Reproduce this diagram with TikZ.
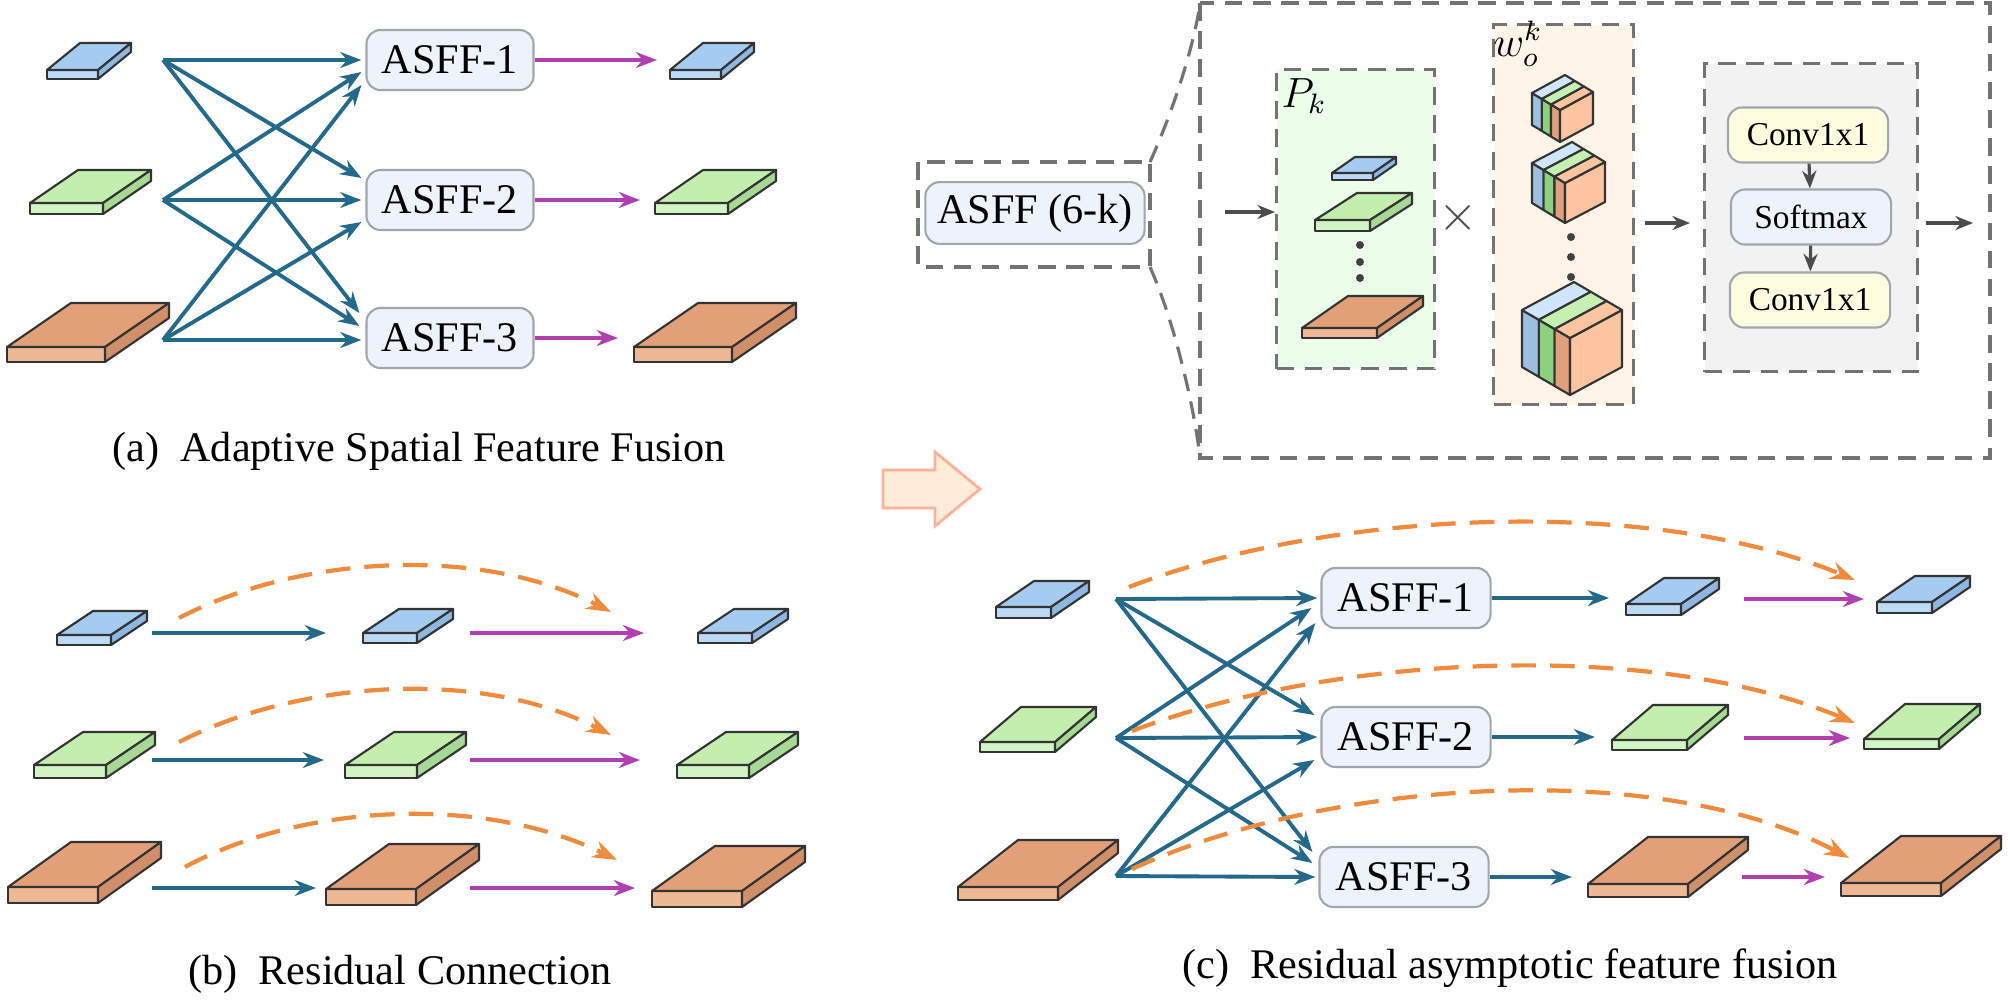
\documentclass[tikz,border=0pt]{standalone}
\usepackage{fontspec}
\setmainfont{Liberation Serif}
\usetikzlibrary{arrows.meta,calc}
\definecolor{bfront}{HTML}{BCDAF6}\definecolor{btop}{HTML}{A6CBF1}\definecolor{bside}{HTML}{8EB8E2}
\definecolor{gfront}{HTML}{D2F4C4}\definecolor{gtop}{HTML}{C2EEAE}\definecolor{gside}{HTML}{A6D993}
\definecolor{ofront}{HTML}{EFB895}\definecolor{otop}{HTML}{E2A078}\definecolor{oside}{HTML}{D08E69}
\definecolor{teal}{HTML}{24688A}\definecolor{mag}{HTML}{B040B0}\definecolor{dorange}{HTML}{F08A3C}
\definecolor{boxfill}{HTML}{EEF3FB}\definecolor{boxline}{HTML}{A0A6AE}
\newcommand\myslab[7]{%
  \filldraw[slabline,fill=#7front] (#1,#2) rectangle ++(#3,-#4);
  \filldraw[slabline,fill=#7top] (#1,#2-#4) -- ++(#3,0) -- ++(#5,-#6) -- ++(-#3,0) -- cycle;
  \filldraw[slabline,fill=#7side] (#1+#3,#2) -- ++(0,-#4) -- ++(#5,-#6) -- ++(0,#4) -- cycle;}
\newcommand\mycube[7]{% Lx Ly Fx Fy Rx Ry h
  \coordinate (L) at (#1,#2); \coordinate (F) at (#3,#4); \coordinate (R) at (#5,#6);
  \coordinate (B) at ($(L)+(R)-(F)$);
  \coordinate (P1) at ($(L)!0.35!(F)$); \coordinate (P2) at ($(L)!0.68!(F)$);
  \coordinate (Q1) at ($(B)!0.35!(R)$); \coordinate (Q2) at ($(B)!0.68!(R)$);
  \filldraw[slabline,fill=cblue] (L) -- (P1) -- ++(0,#7) -- ($(L)+(0,#7)$) -- cycle;
  \filldraw[slabline,fill=cgreen] (P1) -- (P2) -- ++(0,#7) -- ($(P1)+(0,#7)$) -- cycle;
  \filldraw[slabline,fill=cor] (P2) -- (F) -- ++(0,#7) -- ($(P2)+(0,#7)$) -- cycle;
  \filldraw[slabline,fill=corl] (F) -- (R) -- ++(0,#7) -- ($(F)+(0,#7)$) -- cycle;
  \filldraw[slabline,fill=cbluel] (L) -- (P1) -- (Q1) -- (B) -- cycle;
  \filldraw[slabline,fill=cgreenl] (P1) -- (P2) -- (Q2) -- (Q1) -- cycle;
  \filldraw[slabline,fill=corl] (P2) -- (F) -- (R) -- (Q2) -- cycle;}
\definecolor{cblue}{HTML}{9DBFE0}\definecolor{cbluel}{HTML}{CDE6FB}
\definecolor{cgreen}{HTML}{8CD27E}\definecolor{cgreenl}{HTML}{C6F0B2}
\definecolor{cor}{HTML}{E0A07C}\definecolor{corl}{HTML}{FCC49F}
\begin{document}
\begin{tikzpicture}[x=0.01cm,y=-0.01cm,
  slabline/.style={draw=black!80,line width=0.6pt,line join=round},
  tarr/.style={teal,line width=1.1pt,-{Stealth[length=6pt,width=4.5pt]}},
  marr/.style={mag,line width=1.1pt,-{Stealth[length=6pt,width=4.5pt]}},
  oarr/.style={dorange,line width=1.2pt,dash pattern=on 7pt off 4pt,-{Stealth[length=7pt,width=5pt]}},
  garr/.style={black!70,line width=0.9pt,-{Stealth[length=5pt,width=4pt]}},
  asff/.style={draw=boxline,fill=boxfill,rounded corners=4pt,minimum width=1.67cm,minimum height=0.6cm,font=\fontsize{12}{14}\selectfont,line width=0.6pt},
  small/.style={draw=boxline,rounded corners=4pt,minimum width=1.6cm,minimum height=0.55cm,font=\fontsize{9.5}{11}\selectfont,line width=0.6pt},
  cont/.style={draw=black!55,dash pattern=on 5pt off 3pt,line width=0.9pt,anchor=north west,inner sep=0pt},
  captxt/.style={font=\fontsize{12}{14}\selectfont}]
\useasboundingbox (0,0) rectangle (2008,999);
\fill[white] (0,0) rectangle (2008,999);
% ---------- (a)
\myslab{47}{79}{51}{9}{33}{27}{b}
\myslab{30}{214}{73}{11}{48}{33}{g}
\myslab{7}{362}{98}{15}{64}{44}{o}
\myslab{670}{79}{51}{9}{33}{27}{b}
\myslab{655}{214}{73}{11}{48}{33}{g}
\myslab{634}{362}{98}{15}{64}{44}{o}
\coordinate (oa1) at (163,60); \coordinate (oa2) at (163,200); \coordinate (oa3) at (163,340);
\node[asff] (a1) at (450,60) {ASFF-1};
\node[asff] (a2) at (450,200) {ASFF-2};
\node[asff] (a3) at (450,338) {ASFF-3};
\draw[tarr] (oa1) -- ($(a1.west)+(-4,0)$);
\draw[tarr] (oa2) -- ($(a1.west)+(-4,12)$);
\draw[tarr] (oa3) -- ($(a1.west)+(-4,25)$);
\draw[tarr] (oa1) -- ($(a2.west)+(-4,-22)$);
\draw[tarr] (oa2) -- ($(a2.west)+(-4,0)$);
\draw[tarr] (oa3) -- ($(a2.west)+(-4,22)$);
\draw[tarr] (oa1) -- ($(a3.west)+(-6,-25)$);
\draw[tarr] (oa2) -- ($(a3.west)+(-6,-12)$);
\draw[tarr] (oa3) -- ($(a3.west)+(-4,2)$);
\coordinate (ea1) at (657,60); \coordinate (ea2) at (640,200); \coordinate (ea3) at (618,338);
\draw[marr] (a1.east) -- (ea1);
\draw[marr] (a2.east) -- (ea2);
\draw[marr] (a3.east) -- (ea3);
\node[captxt] (capa) at (419,451) {(a)\ \ Adaptive Spatial Feature Fusion};
% ---------- (b)
\myslab{57}{645}{54}{10}{36}{24}{b}
\myslab{363}{643}{54}{10}{36}{24}{b}
\myslab{698}{643}{54}{10}{36}{24}{b}
\myslab{34}{778}{72}{13}{49}{33}{g}
\myslab{345}{778}{72}{13}{49}{33}{g}
\myslab{677}{778}{72}{13}{49}{33}{g}
\myslab{8}{903}{90}{16}{63}{45}{o}
\myslab{326}{905}{90}{16}{63}{45}{o}
\myslab{652}{907}{90}{16}{63}{45}{o}
\foreach \r/\y/\bx/\mx in {1/633/326/644,2/760/324/640,3/888/316/635}{
  \coordinate (bs\r) at (152,\y); \coordinate (bm\r) at (\bx,\y);
  \coordinate (bn\r) at (470,\y); \coordinate (be\r) at (\mx,\y);
  \draw[tarr] (bs\r) -- (bm\r);
  \draw[marr] (bn\r) -- (be\r);}
\coordinate (bc1s) at (179,618); \coordinate (bc1e) at (611,612);
\coordinate (bc2s) at (179,742); \coordinate (bc2e) at (611,735);
\coordinate (bc3s) at (185,867); \coordinate (bc3e) at (617,860);
\draw[oarr] (bc1s) .. controls (300,555) and (480,545) .. (bc1e);
\draw[oarr] (bc2s) .. controls (300,680) and (480,668) .. (bc2e);
\draw[oarr] (bc3s) .. controls (300,805) and (480,793) .. (bc3e);
\node[captxt] (capb) at (400,974) {(b)\ \ Residual Connection};
% ---------- block arrow
\filldraw[fill=orange!15!white,draw=orange!50!red!40!white,line width=0.8pt,line join=miter]
  (883,470) -- (935,470) -- (935,452) -- (980,489) -- (935,526) -- (935,508) -- (883,508) -- cycle;
% ---------- (c)
\myslab{996}{618}{55}{11}{38}{26}{b}
\myslab{980}{752}{75}{10}{41}{35}{g}
\myslab{958}{900}{100}{13}{60}{47}{o}
\myslab{1626}{615}{55}{11}{38}{26}{b}
\myslab{1612}{750}{75}{10}{41}{35}{g}
\myslab{1588}{897}{100}{13}{60}{47}{o}
\myslab{1877}{613}{55}{11}{38}{26}{b}
\myslab{1864}{749}{75}{10}{41}{35}{g}
\myslab{1841}{896}{100}{13}{60}{47}{o}
\coordinate (oc1) at (1116,599); \coordinate (oc2) at (1116,738); \coordinate (oc3) at (1116,876);
\node[asff,minimum width=1.69cm] (c1) at (1406,598) {ASFF-1};
\node[asff,minimum width=1.69cm] (c2) at (1406,737) {ASFF-2};
\node[asff,minimum width=1.69cm] (c3) at (1404,877) {ASFF-3};
\draw[tarr] (oc1) -- ($(c1.west)+(-3,0)$);
\draw[tarr] (oc2) -- ($(c1.west)+(-9,10)$);
\draw[tarr] (oc3) -- ($(c1.west)+(-5,25)$);
\draw[tarr] (oc1) -- ($(c2.west)+(-6,-22)$);
\draw[tarr] (oc2) -- ($(c2.west)+(-3,0)$);
\draw[tarr] (oc3) -- ($(c2.west)+(-6,23)$);
\draw[tarr] (oc1) -- ($(c3.west)+(-6,-25)$);
\draw[tarr] (oc2) -- ($(c3.west)+(-6,-14)$);
\draw[tarr] (oc3) -- ($(c3.west)+(-3,0)$);
\coordinate (cm1) at (1609,598); \coordinate (cm2) at (1595,737); \coordinate (cm3) at (1572,877);
\draw[tarr] (c1.east) -- (cm1);
\draw[tarr] (c2.east) -- (cm2);
\draw[tarr] (c3.east) -- (cm3);
\coordinate (cn1) at (1744,599); \coordinate (ce1) at (1864,599);
\coordinate (cn2) at (1744,738); \coordinate (ce2) at (1850,738);
\coordinate (cn3) at (1742,877); \coordinate (ce3) at (1825,877);
\draw[marr] (cn1) -- (ce1); \draw[marr] (cn2) -- (ce2); \draw[marr] (cn3) -- (ce3);
\coordinate (cc1s) at (1129,587); \coordinate (cc1e) at (1855,580);
\coordinate (cc2s) at (1132,731); \coordinate (cc2e) at (1855,723);
\coordinate (cc3s) at (1132,869); \coordinate (cc3e) at (1849,858);
\draw[oarr] (cc1s) .. controls (1330,510) and (1650,495) .. (cc1e);
\draw[oarr] (cc2s) .. controls (1330,655) and (1650,638) .. (cc2e);
\draw[oarr] (cc3s) .. controls (1330,778) and (1660,758) .. (cc3e);
\node[captxt] (capc) at (1510,968) {(c)\ \ Residual asymptotic feature fusion};
% ---------- top-right detail
\draw[cont] (918,162) rectangle (1150,267);
\node[asff,minimum width=2.11cm] (k6) at (1035,213) {ASFF (6-k)};
\draw[cont] (1200,3) rectangle (1990,458);
\draw[cont] (1150,162) .. controls (1178,100) and (1196,35) .. (1200,3);
\draw[cont] (1150,267) .. controls (1178,330) and (1196,420) .. (1200,458);
\node[cont,fill=green!8!white,minimum width=1.58cm,minimum height=2.99cm] (pk) at (1275,68) {};
\node[cont,fill=orange!9!white,minimum width=1.40cm,minimum height=3.80cm] (wb) at (1492,23) {};
\node[cont,fill=black!5,minimum width=2.13cm,minimum height=3.08cm] (gb) at (1703,62) {};
\node[font=\fontsize{12}{14}\selectfont] (pkl) at (1304,96) {$P_k$};
\node[font=\fontsize{12}{14}\selectfont,inner sep=1pt] (wl) at (1518,44) {$w_o^k$};
\node[font=\fontsize{14}{16}\selectfont,text=black!70] (times) at (1458,218) {$\times$};
\coordinate (in0) at (1225,212);
\draw[garr] (in0) -- (in0 -| pk.west);
\myslab{1332}{180}{41}{7}{23}{16}{b}
\myslab{1315}{231}{55}{11}{42}{27}{g}
\myslab{1302}{338}{75}{10}{46}{32}{o}
\foreach \yy in {245,262,278} \fill[black!75] (1360,\yy) circle (4);
\mycube{1532}{93}{1560}{110}{1593}{92}{32}
\mycube{1532}{163}{1565}{183}{1605}{162}{40}
\mycube{1522}{310}{1570}{338}{1622}{310}{57}
\foreach \yy in {237,257,277} \fill[black!75] (1571,\yy) circle (4);
\node[small,fill=yellow!12!white] (cv1) at (1808,135) {Conv1x1};
\node[small,fill=boxfill] (sm) at (1811,217) {Softmax};
\node[small,fill=yellow!12!white] (cv2) at (1810,300) {Conv1x1};
\draw[garr] (cv1) -- (sm);
\draw[garr] (sm) -- (cv2);
\coordinate (wo) at (1645,223); \coordinate (gi) at (1690,223);
\draw[garr] (wo) -- (gi);
\coordinate (go) at (1926,223); \coordinate (gout) at (1973,223);
\draw[garr] (go) -- (gout);
\end{tikzpicture}
\end{document}
